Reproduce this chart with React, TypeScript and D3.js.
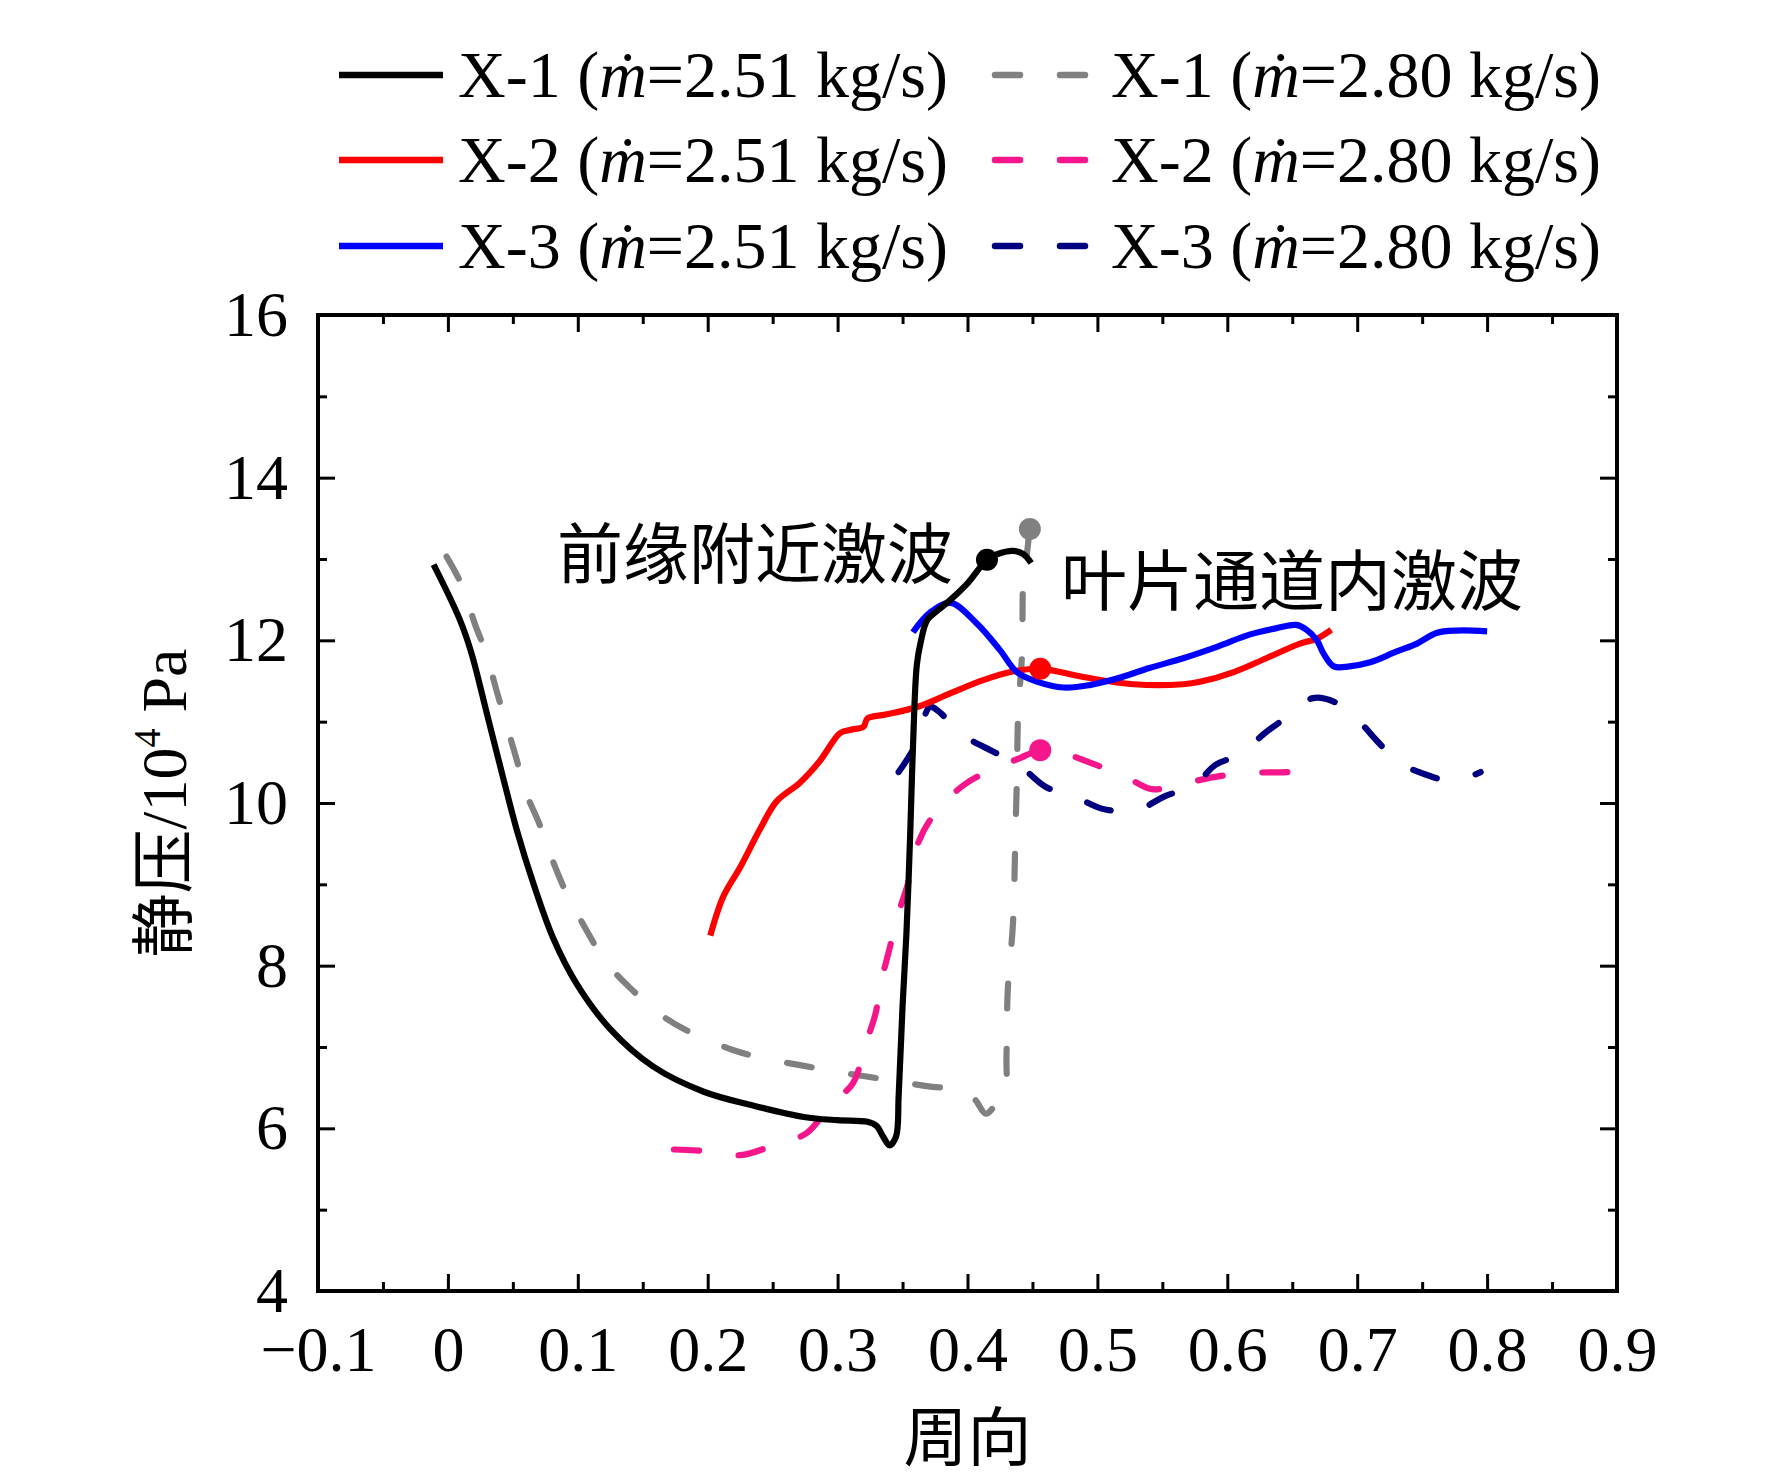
import { useEffect, useRef } from 'react'
import * as d3 from 'd3'

// 周向 position vs static pressure (10^4 Pa)
const x1Low: [number, number][] = [
  [-0.011, 12.93], [0.009, 12.26], [0.018, 11.85], [0.03, 11.1], [0.043, 10.28], [0.053, 9.67],
  [0.066, 9.0], [0.081, 8.34], [0.099, 7.78], [0.125, 7.22], [0.158, 6.76], [0.197, 6.45],
  [0.235, 6.28], [0.274, 6.14], [0.3, 6.1], [0.323, 6.08], [0.33, 6.03], [0.335, 5.9], [0.34, 5.79],
  [0.345, 5.9], [0.347, 6.4], [0.35, 7.5], [0.353, 8.4], [0.356, 9.67], [0.358, 10.68], [0.361, 11.7],
  [0.364, 11.98], [0.369, 12.25], [0.378, 12.38], [0.387, 12.5], [0.4, 12.7], [0.415, 12.99],
  [0.425, 13.07], [0.435, 13.1], [0.443, 13.06], [0.449, 12.95],
]
const x1High: [number, number][] = [
  [-0.001, 13.03], [0.011, 12.67], [0.021, 12.19], [0.029, 11.86], [0.038, 11.35], [0.044, 11.02],
  [0.053, 10.53], [0.059, 10.17], [0.071, 9.72], [0.079, 9.36], [0.091, 8.9], [0.103, 8.54],
  [0.121, 8.06], [0.14, 7.73], [0.168, 7.35], [0.192, 7.14], [0.22, 6.96], [0.243, 6.86],
  [0.27, 6.78], [0.294, 6.71], [0.321, 6.64], [0.345, 6.58], [0.373, 6.51], [0.396, 6.48],
  [0.406, 6.35], [0.414, 6.18], [0.422, 6.3], [0.429, 6.45], [0.43, 6.88], [0.431, 7.7],
  [0.435, 8.52], [0.437, 9.7], [0.438, 10.28], [0.439, 11.11], [0.442, 11.84], [0.443, 12.74],
  [0.446, 13.1], [0.448, 13.37], [0.452, 13.69],
]
const x2Low: [number, number][] = [
  [0.202, 8.37], [0.212, 8.85], [0.225, 9.21], [0.24, 9.67], [0.253, 10.02], [0.271, 10.25],
  [0.286, 10.51], [0.302, 10.86], [0.31, 10.9], [0.32, 10.94], [0.323, 11.04], [0.338, 11.09],
  [0.363, 11.19], [0.387, 11.35], [0.412, 11.51], [0.433, 11.61], [0.456, 11.65], [0.489, 11.55],
  [0.528, 11.46], [0.566, 11.46], [0.579, 11.49], [0.605, 11.61], [0.63, 11.78], [0.656, 11.96],
  [0.669, 12.02], [0.68, 12.13],
]
const x2High: [number, number][] = [
  [0.174, 5.74], [0.199, 5.72], [0.225, 5.67], [0.249, 5.78], [0.276, 5.94], [0.294, 6.28],
  [0.312, 6.56], [0.321, 7.01], [0.329, 7.4], [0.334, 7.83], [0.34, 8.21], [0.347, 8.65],
  [0.354, 9.0], [0.362, 9.51], [0.373, 9.83], [0.397, 10.22], [0.419, 10.41], [0.44, 10.55],
  [0.456, 10.65], [0.47, 10.63], [0.497, 10.48], [0.521, 10.33], [0.542, 10.17], [0.566, 10.24],
  [0.594, 10.33], [0.617, 10.37], [0.646, 10.38], [0.669, 10.41],
]
const x3Low: [number, number][] = [
  [0.358, 12.1], [0.371, 12.34], [0.387, 12.46], [0.407, 12.21], [0.425, 11.88], [0.438, 11.61],
  [0.454, 11.49], [0.474, 11.42], [0.494, 11.45], [0.515, 11.53], [0.54, 11.66], [0.566, 11.78],
  [0.592, 11.92], [0.617, 12.07], [0.638, 12.15], [0.653, 12.19], [0.661, 12.13], [0.669, 12.0],
  [0.674, 11.84], [0.682, 11.68], [0.694, 11.68], [0.71, 11.73], [0.73, 11.86], [0.746, 11.96],
  [0.761, 12.09], [0.777, 12.12], [0.8, 12.11],
]
const x3High: [number, number][] = [
  [0.347, 10.38], [0.361, 10.74], [0.371, 11.18], [0.379, 11.11], [0.393, 10.87], [0.42, 10.63],
  [0.438, 10.49], [0.46, 10.2], [0.481, 10.09], [0.506, 9.92], [0.531, 9.92], [0.553, 10.09],
  [0.574, 10.21], [0.591, 10.47], [0.61, 10.6], [0.629, 10.86], [0.647, 11.07], [0.666, 11.29],
  [0.688, 11.2], [0.703, 10.98], [0.716, 10.75], [0.732, 10.5], [0.751, 10.36], [0.774, 10.27],
  [0.795, 10.38],
]

// shock positions marked with dots
const shockPoints: { x: number; y: number; color: string }[] = [
  { x: 0.415, y: 12.99, color: '#000000' },
  { x: 0.448, y: 13.37, color: '#808080' },
  { x: 0.456, y: 11.65, color: '#ff0000' },
  { x: 0.456, y: 10.65, color: '#f5168c' },
]

const xTicks = [-0.1, 0, 0.1, 0.2, 0.3, 0.4, 0.5, 0.6, 0.7, 0.8, 0.9]
const xTickLabels = ['−0.1', '0', '0.1', '0.2', '0.3', '0.4', '0.5', '0.6', '0.7', '0.8', '0.9']
const xMinor = [-0.05, 0.05, 0.15, 0.25, 0.35, 0.45, 0.55, 0.65, 0.75, 0.85]
const yTicks = [4, 6, 8, 10, 12, 14, 16]
const yMinor = [5, 7, 9, 11, 13, 15]

const series = [
  { name: 'X-1', flow: '2.51', data: x1Low, color: '#000000', dashed: false },
  { name: 'X-2', flow: '2.51', data: x2Low, color: '#ff0000', dashed: false },
  { name: 'X-3', flow: '2.51', data: x3Low, color: '#0000ff', dashed: false },
  { name: 'X-1', flow: '2.80', data: x1High, color: '#808080', dashed: true },
  { name: 'X-2', flow: '2.80', data: x2High, color: '#f5168c', dashed: true },
  { name: 'X-3', flow: '2.80', data: x3High, color: '#000080', dashed: true },
]

const SERIF = "'Liberation Serif', 'Times New Roman', serif"
const CJK = "'Noto Sans CJK SC', sans-serif"

export default function App() {
  const ref = useRef<HTMLDivElement>(null)

  useEffect(() => {
    if (!ref.current) return
    const container = ref.current
    container.innerHTML = ''

    const width = 1772
    const height = 1481
    const plot = { left: 318, right: 1617, top: 315, bottom: 1291 }

    const svg = d3.select(container)
      .append('svg')
      .attr('width', width)
      .attr('height', height)
      .style('display', 'block')
      .style('background', '#fff')

    const x = d3.scaleLinear().domain([-0.1, 0.9]).range([plot.left, plot.right])
    const y = d3.scaleLinear().domain([4, 16]).range([plot.bottom, plot.top])

    const styleAxis = (g: d3.Selection<SVGGElement, unknown, null, undefined>) => {
      g.select('.domain').remove()
      g.selectAll('.tick line').attr('stroke', '#000').attr('stroke-width', 3)
    }

    // bottom axis with labels
    const bottom = svg.append('g')
      .attr('transform', `translate(0,${plot.bottom})`)
      .call(d3.axisBottom(x).tickValues(xTicks).tickSize(-17)
        .tickFormat((_, i) => xTickLabels[i]))
    styleAxis(bottom)
    bottom.selectAll('.tick text')
      .attr('y', 80).attr('dy', null)
      .style('font-family', SERIF).style('font-size', '64px').attr('fill', '#000')

    svg.append('g').attr('transform', `translate(0,${plot.bottom})`)
      .call(d3.axisBottom(x).tickValues(xMinor).tickSize(-9).tickFormat(() => ''))
      .call(styleAxis)
    svg.append('g').attr('transform', `translate(0,${plot.top})`)
      .call(d3.axisTop(x).tickValues(xTicks).tickSize(-17).tickFormat(() => ''))
      .call(styleAxis)
    svg.append('g').attr('transform', `translate(0,${plot.top})`)
      .call(d3.axisTop(x).tickValues(xMinor).tickSize(-9).tickFormat(() => ''))
      .call(styleAxis)

    // left axis with labels
    const left = svg.append('g')
      .attr('transform', `translate(${plot.left},0)`)
      .call(d3.axisLeft(y).tickValues(yTicks).tickSize(-17).tickPadding(30).tickFormat(d3.format('d')))
    styleAxis(left)
    left.selectAll('.tick text')
      .style('font-family', SERIF).style('font-size', '64px').attr('fill', '#000')

    svg.append('g').attr('transform', `translate(${plot.left},0)`)
      .call(d3.axisLeft(y).tickValues(yMinor).tickSize(-9).tickFormat(() => ''))
      .call(styleAxis)
    svg.append('g').attr('transform', `translate(${plot.right},0)`)
      .call(d3.axisRight(y).tickValues(yTicks).tickSize(-17).tickFormat(() => ''))
      .call(styleAxis)
    svg.append('g').attr('transform', `translate(${plot.right},0)`)
      .call(d3.axisRight(y).tickValues(yMinor).tickSize(-9).tickFormat(() => ''))
      .call(styleAxis)

    svg.append('rect')
      .attr('x', plot.left).attr('y', plot.top)
      .attr('width', plot.right - plot.left).attr('height', plot.bottom - plot.top)
      .attr('fill', 'none').attr('stroke', '#000').attr('stroke-width', 4)

    // curves
    const line = d3.line<[number, number]>()
      .x(d => x(d[0]))
      .y(d => y(d[1]))
      .curve(d3.curveCatmullRom.alpha(0.5))

    const drawOrder = [3, 4, 5, 1, 2, 0]
    drawOrder.forEach(i => {
      const s = series[i]
      svg.append('path')
        .datum(s.data)
        .attr('d', line)
        .attr('fill', 'none')
        .attr('stroke', s.color)
        .attr('stroke-width', 6.2)
        .attr('stroke-linejoin', 'round')
        .attr('stroke-linecap', s.dashed ? 'round' : 'butt')
        .attr('stroke-dasharray', s.dashed ? '25,40' : null)
    })

    svg.selectAll('circle.shock')
      .data(shockPoints)
      .enter()
      .append('circle')
      .attr('class', 'shock')
      .attr('cx', d => x(d.x))
      .attr('cy', d => y(d.y))
      .attr('r', 11)
      .attr('fill', d => d.color)

    // annotations
    svg.append('text')
      .attr('x', 557).attr('y', 578)
      .style('font-family', CJK).style('font-size', '66px')
      .text('前缘附近激波')
    svg.append('text')
      .attr('x', 1061).attr('y', 605)
      .style('font-family', CJK).style('font-size', '66px')
      .text('叶片通道内激波')

    // axis titles
    svg.append('text')
      .attr('x', (plot.left + plot.right) / 2).attr('y', 1460)
      .attr('text-anchor', 'middle')
      .style('font-family', CJK).style('font-size', '64px')
      .text('周向')

    const yTitle = svg.append('text')
      .attr('transform', `translate(186,${(plot.top + plot.bottom) / 2}) rotate(-90)`)
      .attr('text-anchor', 'middle')
      .style('font-family', SERIF).style('font-size', '64px')
    yTitle.append('tspan').style('font-family', CJK).text('静压')
    yTitle.append('tspan').text('/10')
    yTitle.append('tspan').attr('dy', -26).style('font-size', '38px').text('4')
    yTitle.append('tspan').attr('dy', 26).text(' Pa')

    // legend: two columns, three rows
    const rowY = [75, 160, 246]
    const colX = [339, 992]
    series.forEach((s, i) => {
      const col = s.dashed ? 1 : 0
      const row = i % 3
      const lx = colX[col]
      const ly = rowY[row]
      svg.append('line')
        .attr('x1', lx + (s.dashed ? 3 : 0)).attr('x2', lx + 104)
        .attr('y1', ly).attr('y2', ly)
        .attr('stroke', s.color).attr('stroke-width', 6.5)
        .attr('stroke-linecap', s.dashed ? 'round' : 'butt')
        .attr('stroke-dasharray', s.dashed ? '25,40' : null)
      const t = svg.append('text')
        .attr('x', lx + 119).attr('y', ly + 22)
        .style('font-family', SERIF).style('font-size', '66px')
      t.append('tspan').text(`${s.name} (`)
      t.append('tspan').style('font-style', 'italic').text('ṁ')
      t.append('tspan').text(`=${s.flow} kg/s)`)
    })

    return () => { container.innerHTML = '' }
  }, [])

  return <div ref={ref} style={{ position: 'absolute', left: 0, top: 0 }} />
}
